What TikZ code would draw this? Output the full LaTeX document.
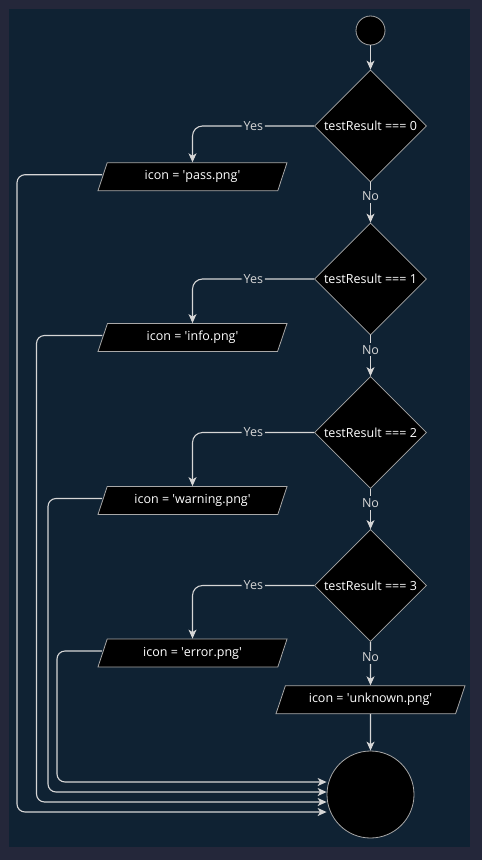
\documentclass[tikz,border=0pt]{standalone}
\usepackage{fontspec}
\setmainfont{Open Sans}
\usepackage{tikz}
\usetikzlibrary{arrows.meta, positioning, shapes.geometric, calc}

\definecolor{pagebg}{HTML}{24273A}
\definecolor{panelbg}{HTML}{0F2233}
\definecolor{linegray}{HTML}{D6D6D6}
\definecolor{bordergray}{HTML}{A8A8A8}

\newcommand{\sq}{\textquotesingle}

\tikzset{
  box/.style={draw=bordergray, fill=black, text=white, line width=0.8pt,
    font=\fontsize{12.5}{15}\selectfont},
  decision/.style={box, diamond, minimum width=112pt, minimum height=112pt, inner sep=0pt},
  assign/.style={box, trapezium, trapezium left angle=57, trapezium right angle=123,
    trapezium stretches body, minimum width=189pt, minimum height=28pt, inner sep=1pt},
  flow/.style={draw=linegray, line width=1.1pt,
    -{Stealth[length=9pt, width=8pt, inset=2.5pt]}},
  lbl/.style={fill=panelbg, text=linegray, inner sep=2pt, font=\fontsize{12.5}{15}\selectfont}
}

\begin{document}
\begin{tikzpicture}[x=1pt, y=-1pt]
% Background
\fill[pagebg] (0,0) rectangle (482,860);
\fill[panelbg] (9,9) rectangle (470,847);

% Start and stop
\node[box, circle, minimum size=29pt] (start) at (370.5,30.5) {};
\node[box, circle, minimum size=87pt] (stop) at (370.5,794.5) {};

% Decisions and their Yes branches
\foreach \n/\y/\py/\file in {0/126/176.7/pass, 1/279/337.5/info, 2/432.5/500.5/warning, 3/585.5/653/error} {
    \node[decision] (d\n) at (370.5,\y) {testResult === \n};
    \node[assign] (p\n) at (192.5,\py) {icon = \sq\file.png\sq};
    \draw[flow, rounded corners=10pt] (d\n.west) -| node[lbl, pos=0.25] {Yes} (p\n.north);
}
\node[assign] (p4) at (370.5,699.7) {icon = \sq unknown.png\sq};

% No branches
\draw[flow] (start) -- (d0);
\foreach \a/\b in {d0/d1, d1/d2, d2/d3, d3/p4} {
    \draw[flow] (\a) -- node[lbl, pos=0.35] {No} (\b);
}
\draw[flow] (p4) -- (stop);

% Merge into stop
\foreach \n/\x/\dy in {0/17/17.5, 1/36.5/7.5, 2/48/-2.5, 3/57/-12.5} {
    \coordinate (e\n) at ($(stop.west)+(0,\dy)$);
    \draw[flow, rounded corners=8pt] ([yshift=2pt]p\n.west) -| (\x,794.5+\dy) -- (e\n);
}

\end{tikzpicture}
\end{document}
